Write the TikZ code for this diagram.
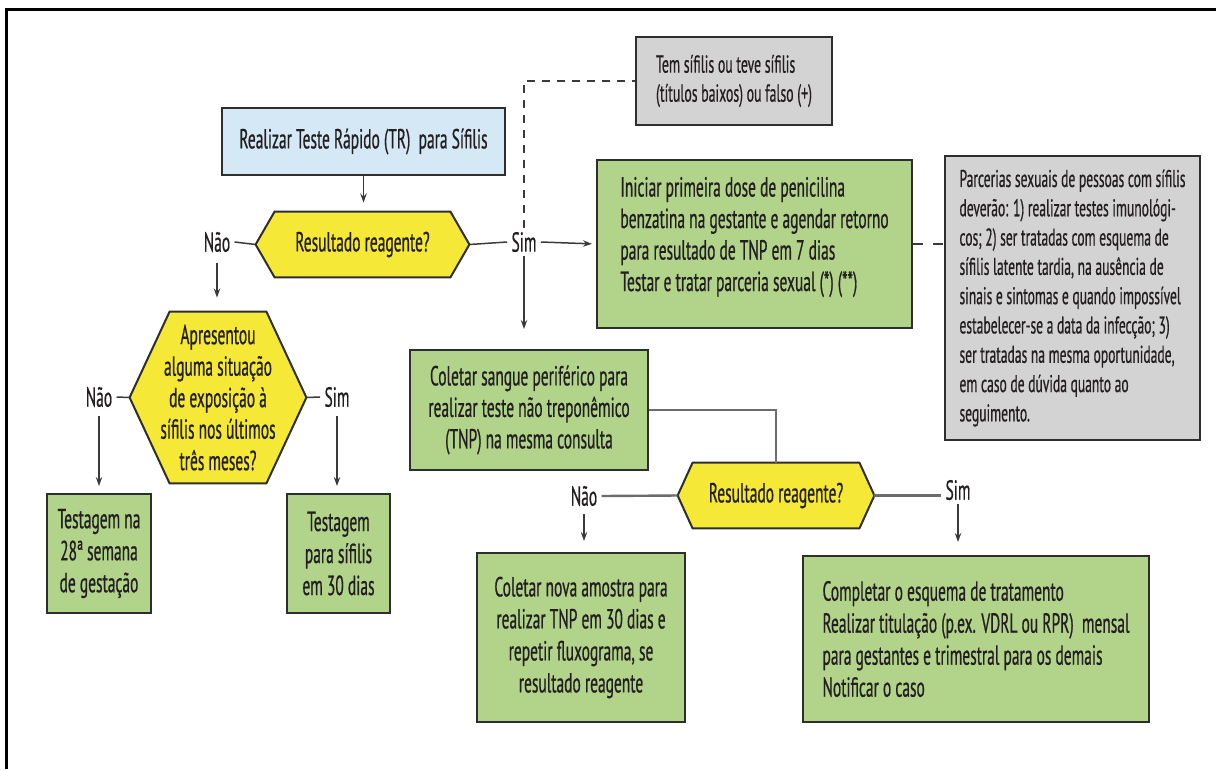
\documentclass[tikz,border=0pt]{standalone}
\usepackage{fontspec}
\setmainfont[FakeStretch=0.56,FakeBold=0.6]{PT Sans}
\usetikzlibrary{arrows.meta,calc,backgrounds}
\definecolor{txt}{HTML}{231F20}
\definecolor{bordc}{HTML}{2E2E2E}
\definecolor{linec}{HTML}{3A3A3A}
\definecolor{blueF}{HTML}{D5E8F5}
\definecolor{greenF}{HTML}{B2D38A}
\definecolor{yellowF}{HTML}{F5E837}
\definecolor{grayF}{HTML}{D3D3D3}
\tikzset{
  box/.style={draw=bordc, line width=1bp, inner sep=0pt, align=center, text=txt},
  boxl/.style={box, align=left},
  fmain/.style={font=\fontsize{13.8bp}{15.75bp}\selectfont},
  fbot/.style={font=\fontsize{13.8bp}{16bp}\selectfont},
  fgray/.style={font=\fontsize{12.1bp}{14.65bp}\selectfont},
  ftem/.style={font=\fontsize{12.3bp}{14.5bp}\selectfont},
  hexnode/.style={inner sep=0pt, align=center, text=txt},
  hexfill/.style={fill=yellowF, draw=bordc, line width=1bp, line join=miter},
  lbl/.style={inner sep=2bp, text=txt, fmain},
  conn/.style={draw=linec, line width=0.75bp},
  arr/.style={conn, -{Stealth[length=4.5bp,width=3.2bp]}},
  dashconn/.style={conn, dash pattern=on 4bp off 3.5bp},
}
\begin{document}
\begin{tikzpicture}[x=0.5bp,y=-0.5bp]
\useasboundingbox (0,0) rectangle (1216,769);
% frame
\draw[line width=1.5bp, black] (6,769) -- (6,9) -- (1216,9);

% nodes
\node[boxl, fill=grayF, ftem, minimum width=98bp, minimum height=44bp] (tem) at (734,81)
  {Tem sífilis ou teve sífilis\\(títulos baixos) ou falso (+)};
\node[box, fill=blueF, fmain, minimum width=141.5bp, minimum height=33.5bp] (real) at (363.5,141.5)
  {Realizar Teste Rápido (TR)\ \ para Sífilis};
\node[hexnode, fmain, minimum width=106.5bp, minimum height=32.5bp] (h1) at (362.5,244.5)
  {Resultado reagente?};
\node[boxl, fill=greenF, fmain, minimum width=157.5bp, minimum height=84bp, text depth=10bp] (g1) at (754.5,244)
  {Iniciar primeira dose de penicilina\\benzatina na gestante e agendar retorno\\para resultado de TNP em 7 dias\\Testar e tratar parceria sexual (*) (**)};
\node[boxl, fill=grayF, fgray, minimum width=127.5bp, minimum height=142bp] (gr2) at (1072.5,298)
  {Parcerias sexuais de pessoas com sífilis\\deverão: 1) realizar testes imunológi-\\cos; 2) ser tratadas com esquema de\\sífilis latente tardia, na ausência de\\sinais e sintomas e quando impossível\\estabelecer-se a data da infecção; 3)\\ser tratadas na mesma oportunidade,\\em caso de dúvida quanto ao\\seguimento.};
\node[box, fill=greenF, fmain, minimum width=119bp, minimum height=60bp] (g2) at (529,410)
  {Coletar sangue periférico para\\realizar teste não treponêmico\\(TNP) na mesma consulta};
\node[hexnode, fmain, minimum width=88bp, minimum height=85.5bp] (h2) at (218,397.5)
  {Apresentou\\alguma situação\\de exposição à\\sífilis nos últimos\\três meses?};
\node[box, fill=greenF, fbot, minimum width=52bp, minimum height=59.5bp] (tl) at (99,553.5)
  {Testagem na\\28ª semana\\de gestação};
\node[box, fill=greenF, fbot, minimum width=51.5bp, minimum height=59.5bp] (tr) at (338.5,553.5)
  {Testagem\\para sífilis\\em 30 dias};
\node[hexnode, fmain, minimum width=98bp, minimum height=32.5bp] (h3) at (776,495.5)
  {Resultado reagente?};
\node[box, fill=greenF, fbot, minimum width=104bp, minimum height=84.5bp] (b3) at (581,637.5)
  {Coletar nova amostra para\\realizar TNP em 30 dias e\\repetir fluxograma, se\\resultado reagente};
\node[boxl, fill=greenF, fbot, minimum width=173bp, minimum height=83bp] (b4) at (976,639)
  {Completar o esquema de tratamento\\Realizar titulação (p.ex. VDRL ou RPR)\ \ mensal\\para gestantes e trimestral para os demais\\Notificar o caso};

% labels
\node[lbl] (nao1) at (217,242) {Não};
\node[lbl] (sim1) at (524,242) {Sim};
\node[lbl] (nao2) at (99,397) {Não};
\node[lbl] (sim2) at (337,397) {Sim};
\node[lbl] (nao3) at (584,496) {Não};
\node[lbl] (sim3) at (958,490) {Sim};

% hexagon outlines behind their text
\begin{scope}[on background layer]
\path[hexfill] (h1.west) -- ($(h1.north west)+(19,0)$) -- ($(h1.north east)+(-19,0)$) -- (h1.east)
  -- ($(h1.south east)+(-19,0)$) -- ($(h1.south west)+(19,0)$) -- cycle;
\path[hexfill] (h2.west) -- ($(h2.north west)+(40,0)$) -- ($(h2.north east)+(-40,0)$) -- (h2.east)
  -- ($(h2.south east)+(-40,0)$) -- ($(h2.south west)+(40,0)$) -- cycle;
\path[hexfill] (h3.west) -- ($(h3.north west)+(15,0)$) -- ($(h3.north east)+(-15,0)$) -- (h3.east)
  -- ($(h3.south east)+(-15,0)$) -- ($(h3.south west)+(15,0)$) -- cycle;
\end{scope}

% connectors
\draw[arr, shorten >=4.5bp] (real.south) -- (real.south |- h1.north);
\draw[conn] (h1.west) -- (nao1.east);
\draw[conn] (h1.east) -- (sim1.west);
\draw[arr, shorten >=2bp] (sim1.east) -- (g1.west);
\draw[dashconn] (sim1.north) |- (tem.west);
\draw[arr, shorten >=10bp] (sim1.south) -- (sim1.south |- g2.north);
\draw[dashconn, dash pattern=on 5bp off 5bp] (g1.east) -- (g1.east -| gr2.west);
\draw[arr, shorten <=3.5bp, shorten >=7bp] (nao1.south) -- (nao1.south |- h2.north);

\draw[conn] (h2.west) -- (nao2.east);
\draw[conn] (h2.east) -- (sim2.west);
\draw[arr, shorten <=2.5bp, shorten >=3.5bp] (nao2.south) -- (nao2.south |- tl.north);
\draw[arr, shorten <=2.5bp, shorten >=3.5bp] (sim2.south) -- (sim2.south |- tr.north);

\draw[conn, draw=gray!85!black, line width=1.4bp] (g2.east) -| (h3.north);
\draw[conn, draw=gray!85!black, line width=1.2bp] (h3.west) -- (nao3.east);
\draw[conn, draw=gray!85!black, line width=1.2bp] (h3.east) -- (h3.east -| sim3.west);
\draw[arr, shorten <=2bp, shorten >=5.5bp] (nao3.south) -- (nao3.south |- b3.north);
\draw[arr, shorten >=6.5bp] (sim3.south) -- (sim3.south |- b4.north);
\end{tikzpicture}
\end{document}
